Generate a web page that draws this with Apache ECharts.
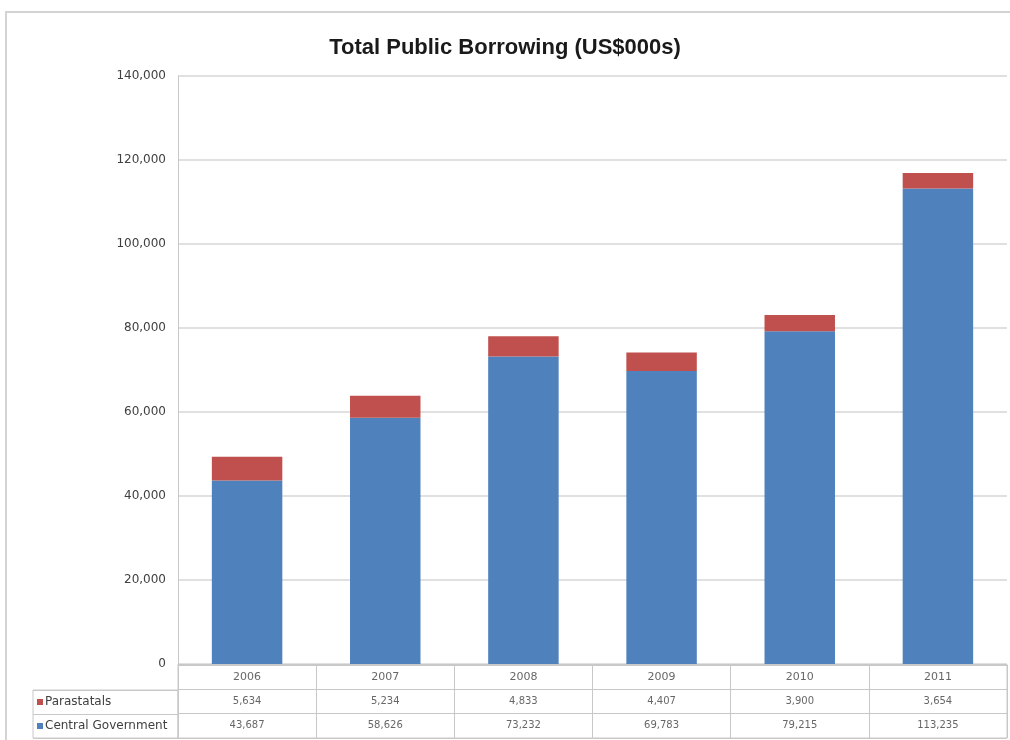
<!DOCTYPE html>
<html>
<head>
<meta charset="utf-8">
<script src="https://cdn.jsdelivr.net/npm/echarts@6/dist/echarts.min.js"></script>
<style>
  html, body { margin: 0; padding: 0; background: #ffffff; }
  #chart { width: 1010px; height: 740px; }
</style>
</head>
<body>
<div id="chart"></div>
<script>
// Years and series values (US$000s)
const years = ['2006', '2007', '2008', '2009', '2010', '2011'];
const parastatals = [5634, 5234, 4833, 4407, 3900, 3654];
const centralGovernment = [43687, 58626, 73232, 69783, 79215, 113235];
const seriesNames = ['Parastatals', 'Central Government'];
const yTicks = { min: 0, max: 140000, interval: 20000 };

const BLUE = '#4F81BD';
const RED = '#C0504D';
const FONT = 'DejaVu Sans';
const fmt = v => Number(v).toLocaleString('en-US');

// Table cell texts: row 2 = years, row 1 = Parastatals, row 0 = Central Government
const tableRows = ['Central Government', 'Parastatals', 'Year'];
const cellData = [];
years.forEach((y, i) => cellData.push({ value: [i, 2, y], label: { fontSize: 11 } }));
parastatals.forEach((v, i) => cellData.push([i, 1, fmt(v)]));
centralGovernment.forEach((v, i) => cellData.push([i, 0, fmt(v)]));

const chart = echarts.init(document.getElementById('chart'));
chart.setOption({
  backgroundColor: '#ffffff',
  animation: false,
  title: {
    text: 'Total Public Borrowing (US$000s)',
    left: 'center',
    top: 32,
    textStyle: { fontFamily: 'Liberation Sans', fontWeight: 'bold', fontSize: 22, color: '#1a1a1a' }
  },
  graphic: [{
    type: 'rect',
    shape: { x: 6, y: 12, width: 1100, height: 800 },
    style: { fill: null, stroke: '#d3d3d3', lineWidth: 2 },
    silent: true
  }],
  grid: [
    { left: 178, right: 3, top: 76, height: 588 },
    { left: 178, right: 3, top: 665, height: 73, show: true, borderColor: '#c8c8c8', borderWidth: 1 },
    { left: 33, width: 145, top: 690, height: 48, show: true, borderColor: '#c8c8c8', borderWidth: 1 }
  ],
  xAxis: [
    {
      gridIndex: 0, type: 'category', data: years,
      axisLine: { show: true, lineStyle: { color: '#c8c8c8' } },
      axisTick: { show: false }, axisLabel: { show: false }
    },
    {
      gridIndex: 1, type: 'category', data: years,
      axisLine: { show: false }, axisTick: { show: false }, axisLabel: { show: false },
      splitLine: { show: true, lineStyle: { color: '#c8c8c8', width: 1 } }
    },
    {
      gridIndex: 2, type: 'value', min: 0, max: 1, show: false
    }
  ],
  yAxis: [
    {
      gridIndex: 0, type: 'value', min: yTicks.min, max: yTicks.max, interval: yTicks.interval,
      axisLine: { show: true, lineStyle: { color: '#c8c8c8' } },
      axisTick: { show: false },
      axisLabel: { formatter: v => fmt(v), fontFamily: FONT, fontSize: 12, color: '#404040', margin: 12 },
      splitLine: { show: true, lineStyle: { color: '#d6d6d6', width: 1.5 } }
    },
    {
      gridIndex: 1, type: 'category', data: tableRows,
      axisLine: { show: false }, axisTick: { show: false }, axisLabel: { show: false },
      splitLine: { show: true, lineStyle: { color: '#c8c8c8', width: 1 } }
    },
    {
      gridIndex: 2, type: 'category', data: ['Central Government', 'Parastatals'],
      axisLine: { show: false }, axisTick: { show: false },
      splitLine: { show: true, lineStyle: { color: '#c8c8c8', width: 1 } },
      axisLabel: {
        inside: true, margin: 4, align: 'left',
        formatter: v => (v === 'Parastatals' ? '{p|}' : '{c|}') + '{t|' + v + '}',
        rich: {
          p: { width: 6, height: 6, backgroundColor: RED },
          c: { width: 6, height: 6, backgroundColor: BLUE },
          t: { fontFamily: FONT, fontSize: 12, color: '#404040', padding: [0, 0, 0, 2] }
        }
      }
    }
  ],
  series: [
    {
      name: seriesNames[1], type: 'bar', stack: 'total', xAxisIndex: 0, yAxisIndex: 0,
      data: centralGovernment, barWidth: '51%', itemStyle: { color: BLUE }
    },
    {
      name: seriesNames[0], type: 'bar', stack: 'total', xAxisIndex: 0, yAxisIndex: 0,
      data: parastatals, barWidth: '51%', itemStyle: { color: RED }
    },
    {
      name: 'table', type: 'scatter', xAxisIndex: 1, yAxisIndex: 1,
      symbolSize: 0, data: cellData, silent: true,
      label: {
        show: true, position: 'inside',
        formatter: p => p.value[2],
        fontFamily: FONT, fontSize: 10, color: '#404040'
      }
    }
  ]
});
</script>
</body>
</html>
